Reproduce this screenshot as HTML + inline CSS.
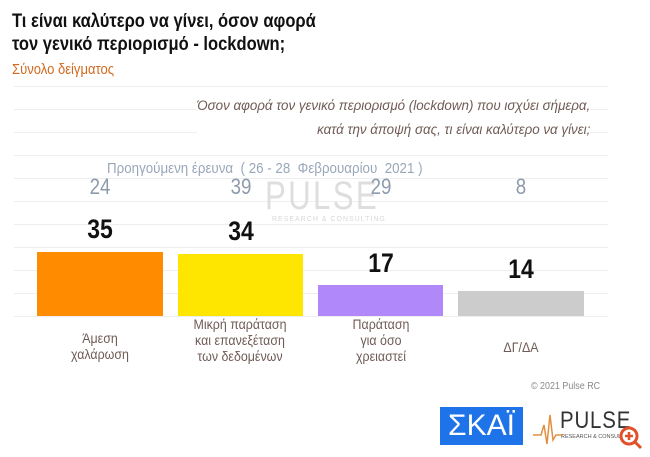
<!DOCTYPE html>
<html><head><meta charset="utf-8"><style>
body{margin:0;width:650px;height:457px;background:#fff;overflow:hidden;position:relative;font-family:"Liberation Sans",sans-serif}
.a{position:absolute;white-space:nowrap}
.g{position:absolute;left:14px;width:594px;height:1px;background:#eeeeee}
.bar{position:absolute}
.num{position:absolute;width:126px;text-align:center;font-weight:bold;font-size:27px;color:#111;transform:scaleX(0.85)}
.prev{position:absolute;width:126px;text-align:center;font-size:22px;color:#8d9aab;transform:scaleX(0.85)}
.lab{position:absolute;width:140px;text-align:center;font-size:13.5px;line-height:16px;color:#6f5b55;transform:scaleX(0.92)}
</style></head><body>
<div class="a" style="left:12px;top:10px;font-size:19px;font-weight:bold;line-height:23px;color:#111;transform:scaleX(0.87);transform-origin:0 0">Τι είναι καλύτερο να γίνει, όσον αφορά<br>τον γενικό περιορισμό - lockdown;</div>
<div class="a" style="left:12px;top:61px;font-size:15px;color:#d2691e;transform:scaleX(0.87);transform-origin:0 0">Σύνολο δείγματος</div>
<div class="g" style="top:86px"></div><div class="g" style="top:109px"></div><div class="g" style="top:132px"></div><div class="g" style="top:155px"></div><div class="g" style="top:178px"></div><div class="g" style="top:201px"></div><div class="g" style="top:224px"></div><div class="g" style="top:247px"></div><div class="g" style="top:270px"></div><div class="g" style="top:293px"></div><div class="g" style="top:316px"></div>
<div class="a" style="right:60px;top:94px;font-size:13.5px;line-height:24px;font-style:italic;color:#6f5b55;text-align:right;background:#fff;transform:scaleX(0.99);transform-origin:100% 0">Όσον αφορά τον γενικό περιορισμό (lockdown) που ισχύει σήμερα,<br>κατά την άποψή σας, τι είναι καλύτερο να γίνει;</div>
<div class="a" style="left:107px;top:160px;font-size:15px;color:#9aa7b8;transform:scaleX(0.89);transform-origin:0 0">Προηγούμενη έρευνα &nbsp;( 26 - 28 &nbsp;Φεβρουαρίου &nbsp;2021 )</div>
<div class="a" style="left:265px;top:174px;font-size:40px;color:#dedede;letter-spacing:3px;transform:scaleX(0.78);transform-origin:0 0">PULSE</div>
<div class="a" style="left:272px;top:216px;font-size:7px;color:#d8d8d8;letter-spacing:1px">RESEARCH &amp; CONSULTING</div>
<div class="prev" style="left:37px;top:174px">24</div>
<div class="prev" style="left:178px;top:174px">39</div>
<div class="prev" style="left:318px;top:174px">29</div>
<div class="prev" style="left:458px;top:174px">8</div>
<div class="bar" style="left:37px;top:252px;width:126px;height:64px;background:#ff8c00"></div>
<div class="bar" style="left:178px;top:254px;width:125px;height:62px;background:#ffe600"></div>
<div class="bar" style="left:318px;top:285px;width:125px;height:31px;background:#b088f9"></div>
<div class="bar" style="left:458px;top:291px;width:126px;height:25px;background:#cccccc"></div>
<div class="num" style="left:37px;top:214px">35</div>
<div class="num" style="left:178px;top:216px">34</div>
<div class="num" style="left:318px;top:248px">17</div>
<div class="num" style="left:458px;top:254px">14</div>
<div class="lab" style="left:30px;top:331px">Άμεση<br>χαλάρωση</div>
<div class="lab" style="left:170px;top:317px">Μικρή παράταση<br>και επανεξέταση<br>των δεδομένων</div>
<div class="lab" style="left:311px;top:317px">Παράταση<br>για όσο<br>χρειαστεί</div>
<div class="lab" style="left:451px;top:340px">ΔΓ/ΔΑ</div>
<div class="a" style="left:531px;top:380px;font-size:10.5px;color:#8a8a8a;transform:scaleX(0.85);transform-origin:0 0">© 2021 Pulse RC</div>
<div class="a" style="left:440px;top:407px;width:83px;height:38px;background:#1e73e8;color:#fff;font-size:30px;line-height:38px;text-align:center">ΣΚΑΪ</div>
<div class="a" style="left:560px;top:407px;font-size:24px;color:#333;letter-spacing:1px;transform:scaleX(0.85);transform-origin:0 0">PULSE</div>
<div class="a" style="left:561px;top:434px;font-size:5.5px;color:#555">RESEARCH &amp; CONSULTING</div>
<svg class="a" style="left:533px;top:410px" width="30" height="40"><polyline points="0,25 8,25 11,15 14,34 17,5 20,30 23,25 30,25" fill="none" stroke="#e09040" stroke-width="1.5"/></svg>
<svg class="a" style="left:619px;top:426px" width="24" height="24"><circle cx="10" cy="10" r="8" fill="#fff" stroke="#e0502a" stroke-width="3"/><line x1="16" y1="16" x2="22" y2="22" stroke="#e0502a" stroke-width="3"/><path d="M10 6v8M6 10h8" stroke="#e0502a" stroke-width="2.5"/></svg>
</body></html>
